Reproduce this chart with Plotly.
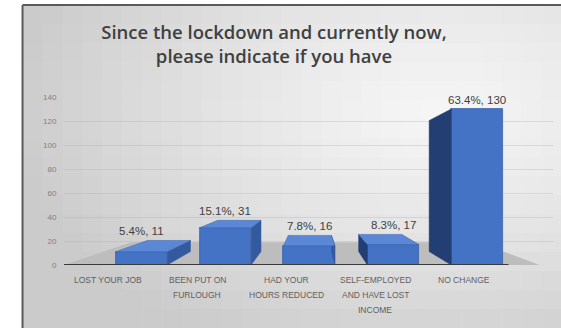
import math
import plotly.graph_objects as go

# ---- data -------------------------------------------------------------
categories = [
    "LOST YOUR JOB",
    "BEEN PUT ON<br>FURLOUGH",
    "HAD YOUR<br>HOURS REDUCED",
    "SELF-EMPLOYED<br>AND HAVE LOST<br>INCOME",
    "NO CHANGE",
]
percentages = ["5.4%", "15.1%", "7.8%", "8.3%", "63.4%"]
counts = [11, 31, 16, 17, 130]
y_ticks = [0, 20, 40, 60, 80, 100, 120, 140]

title_lines = ["Since the lockdown and currently now,", "please indicate if you have"]

# ---- geometry / style ---------------------------------------------------
W, H = 561, 328
M_L, M_R, M_T, M_B = 63.5, 8, 97, 63
X_RANGE = [-0.5, 5.0]
Y_RANGE = [0, 140]
plot_w = W - M_L - M_R
plot_h = H - M_T - M_B

FRONT = "#4472c4"
FRONT_EDGE = "#3b63ab"
TOP = "#5b88d6"
SIDE_R = "#33599e"
SIDE_L = "#233e72"
FLOOR = "#bdbdbd"
TEXT = "#404040"

# pseudo-3D: back faces are the front faces pulled toward a vanishing point
VX, VY, DEPTH = 2.3, 70.0, 0.16
FLOOR_DEPTH = 0.27
BAR_W = 0.58
bar_x = [0.37 + 0.944 * i for i in range(len(counts))]


def to_back(x, y, k=DEPTH):
    return x + k * (VX - x), y + k * (VY - y)


def px_to_paper_x(px):
    return (px - M_L) / plot_w


def px_to_paper_y(py):
    return (H - M_B - py) / plot_h


fig = go.Figure()

# visible side and top faces of each bar
for xc, v in zip(bar_x, counts):
    x0, x1 = xc - BAR_W / 2, xc + BAR_W / 2
    bx0, bt = to_back(x0, v)
    bx1, _ = to_back(x1, v)
    _, bb = to_back(x0, 0)
    if xc < VX:
        sx = [x1, bx1, bx1, x1, x1]
        sc = SIDE_R
    else:
        sx = [x0, bx0, bx0, x0, x0]
        sc = SIDE_L
    sy = [0, bb, bt, v, 0]
    fig.add_trace(go.Scatter(x=sx, y=sy, fill="toself", fillcolor=sc, mode="lines",
                             line=dict(color=sc, width=0.5), hoverinfo="skip",
                             showlegend=False))
    if bt > v:
        tx = [x0, x1, bx1, bx0, x0]
        ty = [v, v, bt, bt, v]
        fig.add_trace(go.Scatter(x=tx, y=ty, fill="toself", fillcolor=TOP, mode="lines",
                                 line=dict(color=FRONT_EDGE, width=0.5), hoverinfo="skip",
                                 showlegend=False))

# front faces
fig.add_trace(go.Bar(
    x=bar_x, y=counts, width=BAR_W,
    marker=dict(color=FRONT, line=dict(color=FRONT_EDGE, width=0.8)),
    hoverinfo="skip", showlegend=False,
))

# value labels
for xc, v, p, n in zip(bar_x, counts, percentages, counts):
    _, bt = to_back(xc - BAR_W / 2, v)
    fig.add_annotation(x=xc, y=max(v, bt), text=f"{p}, {n}", showarrow=False,
                       yanchor="bottom", yshift=1,
                       font=dict(family="Liberation Sans", size=11.5, color=TEXT))

# category labels, one line at a time
for i, cat in enumerate(categories):
    for j, line in enumerate(cat.split("<br>")):
        fig.add_annotation(x=i, xref="x", y=0, yref="paper", text=line, showarrow=False,
                           yanchor="middle", yshift=-15 - 15 * j,
                           font=dict(family="Liberation Sans", size=8.5, color="#5f5f5f"))

shapes = []

# soft radial gray gradient behind the chart, built from small tiles
FRAME_L, FRAME_T = 22, 5
NCOL, NROW = 27, 17
GX, GY, RX, RY = 440.0, 110.0, 430.0, 260.0
LIGHT, DARK = 245, 203
cw = (W - FRAME_L) / NCOL
ch = (H - FRAME_T) / NROW
for r in range(NROW):
    for c in range(NCOL):
        cx = FRAME_L + (c + 0.5) * cw
        cy = FRAME_T + (r + 0.5) * ch
        d = min(1.0, math.hypot((cx - GX) / RX, (cy - GY) / RY))
        g = round(LIGHT + (DARK - LIGHT) * d ** 1.3)
        col = f"rgb({g},{g},{g})"
        shapes.append(dict(
            type="rect", xref="paper", yref="paper", layer="below",
            x0=px_to_paper_x(FRAME_L + c * cw), x1=px_to_paper_x(FRAME_L + (c + 1) * cw + 0.6),
            y0=px_to_paper_y(FRAME_T + (r + 1) * ch + 0.6), y1=px_to_paper_y(FRAME_T + r * ch),
            fillcolor=col, line=dict(width=0),
        ))

# floor, baseline and the frame's top/left edges
fl, fr = -0.5, 4.85
blx, bly = to_back(fl, 0, FLOOR_DEPTH)
brx, bry = to_back(fr, 0, FLOOR_DEPTH)
shapes += [
    dict(type="path", xref="x", yref="y", layer="between",
         path=f"M{fl},0 L{fr},0 L{brx},{bry} L{blx},{bly} Z",
         fillcolor=FLOOR, line=dict(width=0)),
    dict(type="line", xref="x", yref="y", layer="above",
         x0=-0.5, x1=4.5, y0=0, y1=0, line=dict(color="#3a3a3a", width=2)),
    dict(type="line", xref="paper", yref="paper", layer="above",
         x0=px_to_paper_x(FRAME_L), x1=px_to_paper_x(W),
         y0=px_to_paper_y(FRAME_T), y1=px_to_paper_y(FRAME_T),
         line=dict(color="#5a5a5a", width=2)),
    dict(type="line", xref="paper", yref="paper", layer="above",
         x0=px_to_paper_x(FRAME_L), x1=px_to_paper_x(FRAME_L),
         y0=px_to_paper_y(FRAME_T), y1=px_to_paper_y(H),
         line=dict(color="#5a5a5a", width=2)),
]

fig.update_layout(
    width=W, height=H,
    margin=dict(l=M_L, r=M_R, t=M_T, b=M_B, pad=0),
    paper_bgcolor="white",
    plot_bgcolor="rgba(0,0,0,0)",
    shapes=shapes,
    title=dict(text="<br>".join(title_lines), x=274 / W, xanchor="center",
               y=1 - 39 / H, yanchor="middle", xref="container", yref="container",
               font=dict(family="Open Sans", size=18.5, weight=600, color=TEXT)),
    xaxis=dict(range=X_RANGE, showgrid=False, zeroline=False, showticklabels=False,
               showline=False, fixedrange=True),
    yaxis=dict(range=Y_RANGE, tickvals=y_ticks, showgrid=True,
               gridcolor="rgba(170,170,170,0.3)", gridwidth=1, zeroline=False,
               ticks="outside", ticklen=5, tickcolor="rgba(0,0,0,0)",
               tickfont=dict(family="Liberation Sans", size=8, color="#808080"),
               showline=False, fixedrange=True),
    bargap=0,
)

fig.write_html("out.html")
